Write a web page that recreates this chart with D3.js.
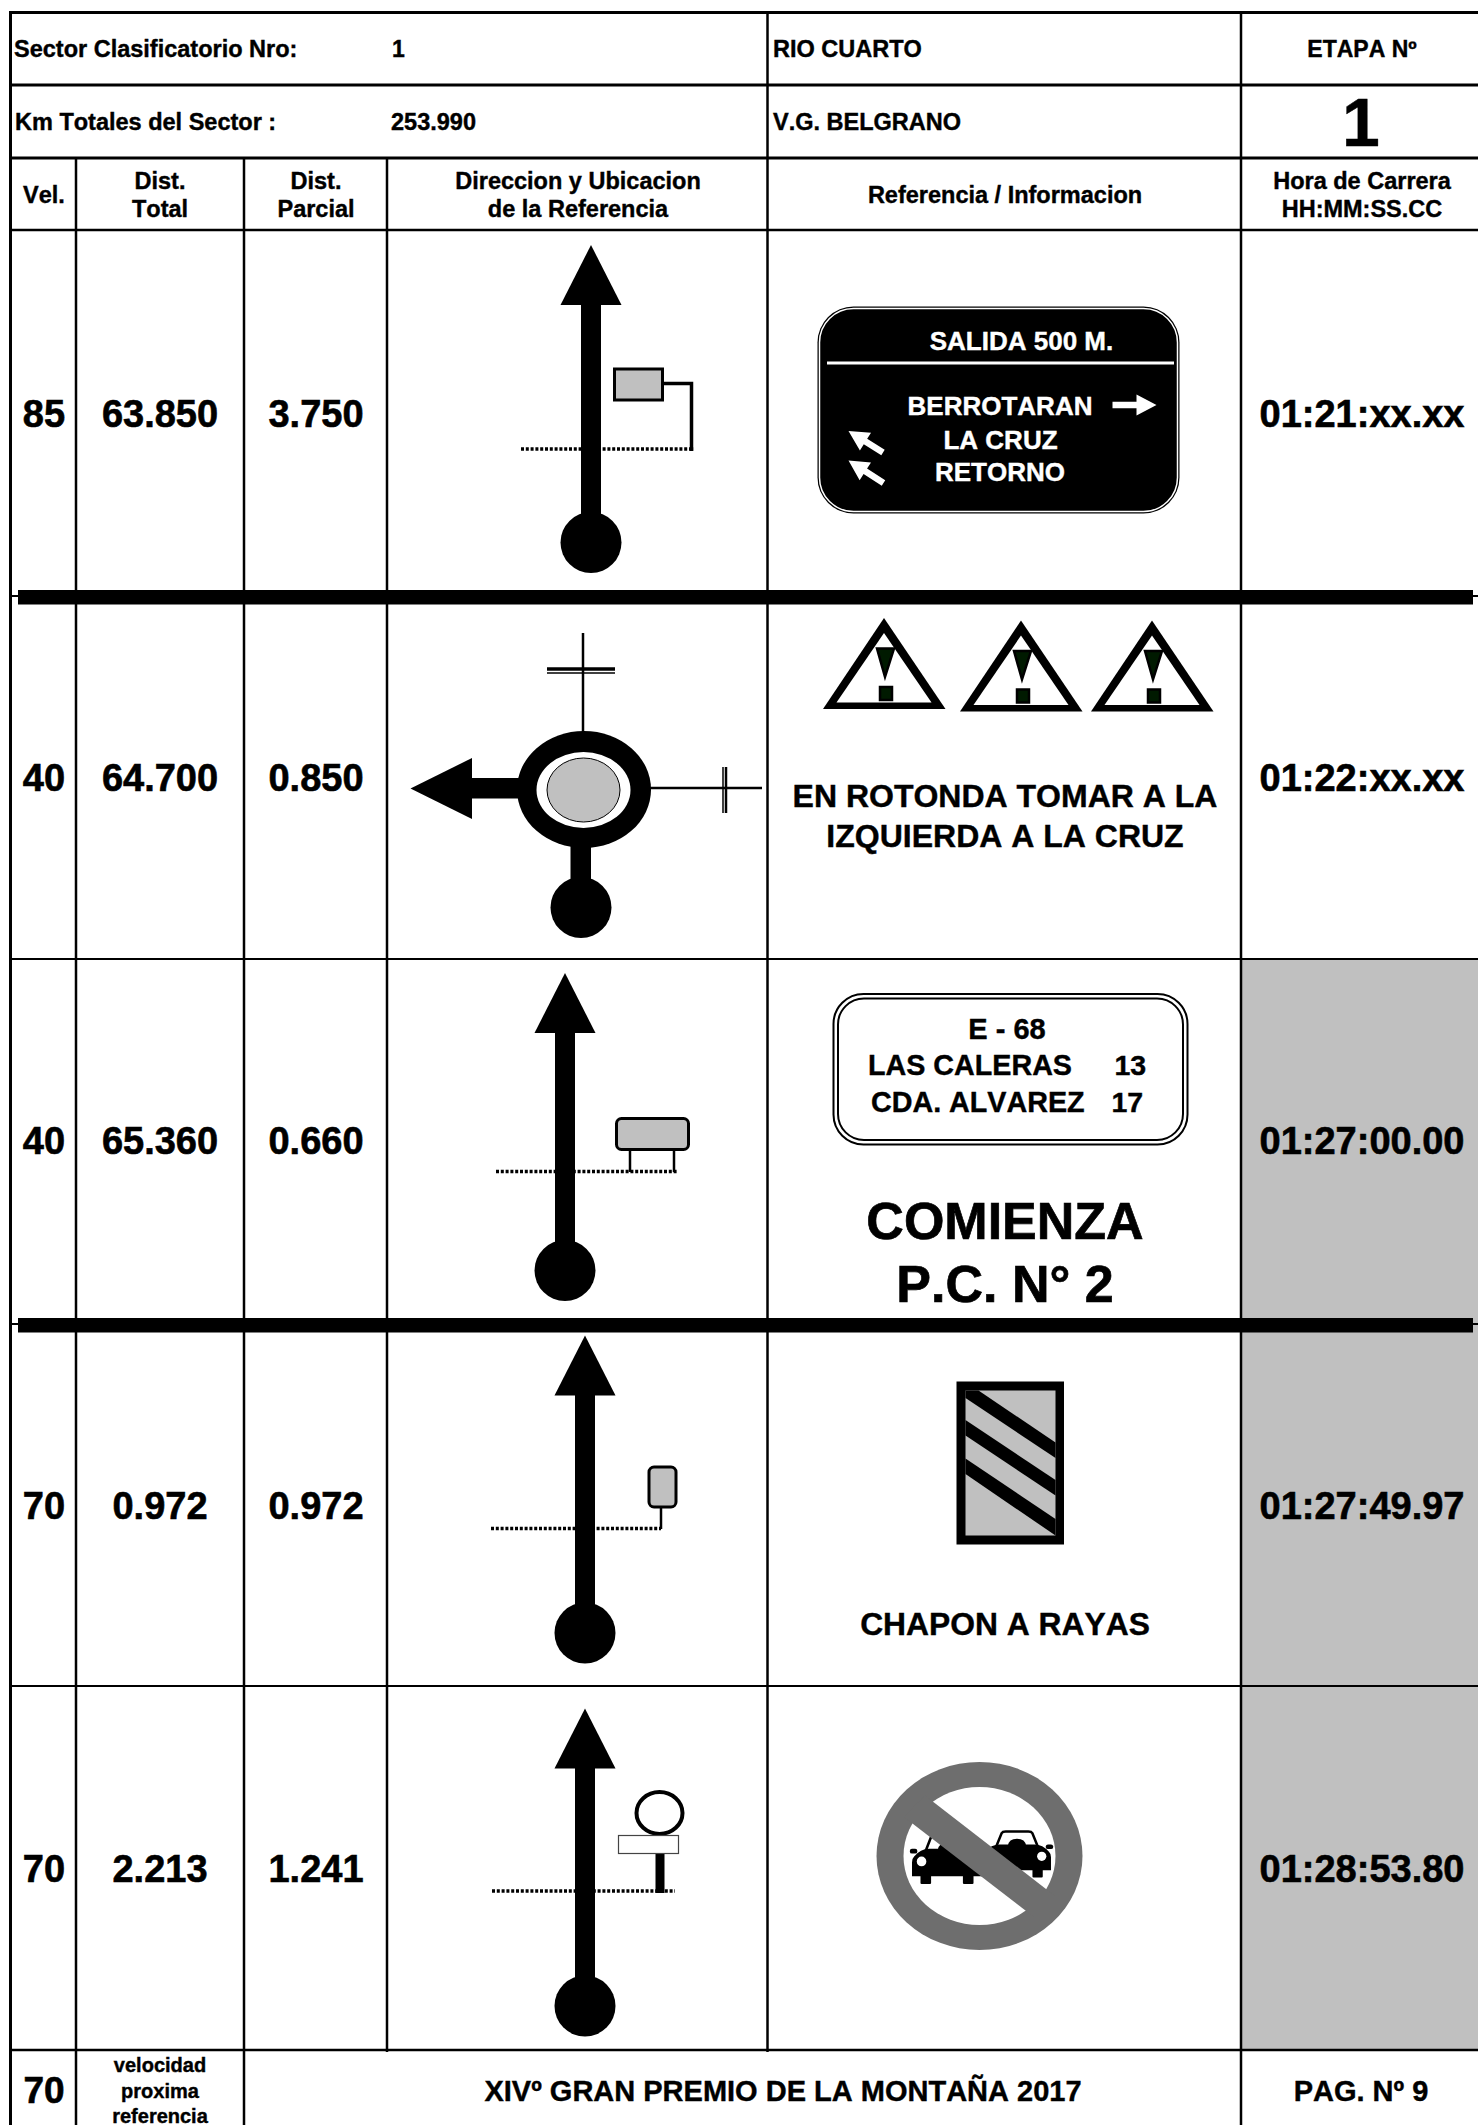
<!DOCTYPE html>
<html>
<head>
<meta charset="utf-8">
<script src="https://d3js.org/d3.v7.min.js"></script>
<style>
  html, body { margin: 0; padding: 0; background: #fff; }
  svg { display: block; }
  text { font-family: "Liberation Sans", Arial, sans-serif; font-weight: bold; fill: #000; stroke: #000; stroke-width: 0.4; font-kerning: none; }
</style>
</head>
<body>
<svg width="1478" height="2125"></svg>
<script>
// values read from the roadbook page
const rowIds = ['r1', 'r2', 'r3', 'r4', 'r5'];
const velocidad = ['85', '40', '40', '70', '70'];
const distTotal = ['63.850', '64.700', '65.360', '0.972', '2.213'];
const distParcial = ['3.750', '0.850', '0.660', '0.972', '1.241'];
const horaCarrera = ['01:21:xx.xx', '01:22:xx.xx', '01:27:00.00', '01:27:49.97', '01:28:53.80'];
const headers = [
    {col: 'vel', lines: ['Vel.']},
    {col: 'total', lines: ['Dist.', 'Total']},
    {col: 'parcial', lines: ['Dist.', 'Parcial']},
    {col: 'dir', lines: ['Direccion y Ubicacion', 'de la Referencia']},
    {col: 'ref', lines: ['Referencia / Informacion']},
    {col: 'hora', lines: ['Hora de Carrera', 'HH:MM:SS.CC']}
];
const proximaVel = '70';
const proximaTxt = ['velocidad', 'proxima', 'referencia'];
const tituloPie = 'XIVº GRAN PREMIO DE LA MONTAÑA 2017';
const paginaPie = 'PAG. Nº 9';

// layout scales
const colNames = ['vel', 'total', 'parcial', 'dir', 'ref', 'hora'];
const xMid = d3.scaleOrdinal().domain(colNames).range([44, 160, 316, 578, 1005, 1362]);
const yBase = d3.scaleOrdinal().domain(rowIds).range([427, 791, 1154, 1519, 1882]);
const grey = '#c0c0c0';

var svg = d3.select('svg');

function label(g, txt, x, y, size, anchor, fill) {
    return g.append('text')
        .attr('x', x).attr('y', y)
        .attr('font-size', size)
        .attr('text-anchor', anchor || 'middle')
        .style('fill', fill || '#000')
        .style('stroke', fill || '#000')
        .text(txt);
}
function rule(g, x1, y1, x2, y2, w, dash) {
    var l = g.append('line')
        .attr('x1', x1).attr('y1', y1).attr('x2', x2).attr('y2', y2)
        .attr('stroke', '#000').attr('stroke-width', w);
    if (dash) l.attr('stroke-dasharray', dash);
    return l;
}
function poly(g, pts, fill) {
    return g.append('polygon').attr('points', pts.join(' ')).attr('fill', fill || '#000');
}

// grey time cells
svg.append('rect').attr('x', 1241).attr('y', 959).attr('width', 237).attr('height', 1091).attr('fill', grey);

// grid
var grid = svg.append('g');
[[12.5, 3], [85, 3], [158, 3], [230, 2.5], [959, 2], [1686, 2], [2050, 2.5]].forEach(function(h) {
    rule(grid, 10, h[0], 1478, h[0], h[1]);
});
rule(grid, 10, 596, 1478, 596, 2);
rule(grid, 10, 1324, 1478, 1324, 2);
rule(grid, 10.5, 11, 10.5, 2125, 3);
rule(grid, 76, 158, 76, 2125, 2.5);
rule(grid, 244, 158, 244, 2125, 2.5);
rule(grid, 387, 158, 387, 2052, 2.5);
rule(grid, 767.5, 11, 767.5, 2052, 2.5);
rule(grid, 1241, 11, 1241, 2125, 2.5);
grid.append('rect').attr('x', 18).attr('y', 590).attr('width', 1455).attr('height', 14.5);
grid.append('rect').attr('x', 18).attr('y', 1318).attr('width', 1455).attr('height', 14.5);

// page header
var head = svg.append('g');
label(head, 'Sector Clasificatorio Nro:', 14, 57, 23.5, 'start');
label(head, '1', 392, 57, 23, 'start');
label(head, 'Km Totales del Sector :', 15, 130, 23.5, 'start');
label(head, '253.990', 391, 130, 23.5, 'start');
label(head, 'RIO CUARTO', 773, 57, 23.5, 'start');
label(head, 'V.G. BELGRANO', 773, 130, 23.5, 'start');
label(head, 'ETAPA Nº', 1362, 57, 23);
label(head, '1', 1361, 146, 68);

headers.forEach(function(h) {
    if (h.lines.length == 1) {
        label(head, h.lines[0], xMid(h.col), 203, 23.5);
    } else {
        label(head, h.lines[0], xMid(h.col), 188.5, 23.5);
        label(head, h.lines[1], xMid(h.col), 217, 23.5);
    }
});

// the values of each row
var rows = svg.append('g').selectAll('g')
    .data(rowIds)
    .enter().append('g');
[['vel', velocidad], ['total', distTotal], ['parcial', distParcial], ['hora', horaCarrera]].forEach(function(c) {
    rows.append('text')
        .attr('x', xMid(c[0]))
        .attr('y', d => yBase(d))
        .attr('font-size', 38)
        .attr('text-anchor', 'middle')
        .style('stroke-width', 0.6)
        .text((d, i) => c[1][i]);
});

// straight-on tulip: ball at the bottom, arrow on top
function tulip(g, x, top) {
    poly(g, [[x - 30.5, top + 60], [x, top], [x + 30.5, top + 60]]);
    g.append('rect').attr('x', x - 10).attr('y', top + 59).attr('width', 20).attr('height', 220);
    g.append('circle').attr('cx', x).attr('cy', top + 297.5).attr('r', 30.5);
}
function dotted(g, x1, x2, y) {
    rule(g, x1, y, x2, y, 3.5, '3 1.8');
}

var marks = svg.append('g');

// row 1
tulip(marks, 591, 245);
dotted(marks, 521, 694, 449);
marks.append('path').attr('d', 'M663,383.5H691.5V451').attr('fill', 'none').attr('stroke', '#000').attr('stroke-width', 3.5);
marks.append('rect').attr('x', 614.5).attr('y', 369).attr('width', 48).attr('height', 31)
    .attr('fill', grey).attr('stroke', '#000').attr('stroke-width', 3);

var plate = marks.append('g');
plate.append('rect').attr('x', 817.5).attr('y', 306.5).attr('width', 362).attr('height', 207).attr('rx', 36)
    .attr('fill', '#000');
plate.append('rect').attr('x', 819.5).attr('y', 308.5).attr('width', 358).attr('height', 203).attr('rx', 34)
    .attr('fill', 'none').attr('stroke', '#fff').attr('stroke-width', 1.5);
rule(plate, 827, 363, 1174, 363, 3).attr('stroke', '#fff');
label(plate, 'SALIDA 500 M.', 1021.5, 350, 26, 'middle', '#fff');
label(plate, 'BERROTARAN', 1000, 415, 26, 'middle', '#fff');
label(plate, 'LA CRUZ', 1000.5, 448.5, 26, 'middle', '#fff');
label(plate, 'RETORNO', 1000, 481, 26, 'middle', '#fff');

function plateArrow(g, x1, y1, x2, y2) {
    var len = Math.hypot(x2 - x1, y2 - y1);
    var a = Math.atan2(y2 - y1, x2 - x1) * 180 / Math.PI;
    g.append('polygon')
        .attr('points', [[len, 0], [len - 20, -10.5], [len - 20, -3.2], [0, -3.2], [0, 3.2], [len - 20, 3.2], [len - 20, 10.5]].join(' '))
        .attr('transform', 'translate(' + x1 + ',' + y1 + ') rotate(' + a + ')')
        .attr('fill', '#fff');
}
plateArrow(plate, 1112.5, 405, 1156.5, 405);
plateArrow(plate, 883, 452.5, 848.5, 431);
plateArrow(plate, 883.5, 483, 848.5, 460.5);

// row 2, roundabout
rule(marks, 583, 633, 583, 735, 2.5);
rule(marks, 547, 669, 615, 669, 3.5);
rule(marks, 547, 673, 615, 673, 1.5);
rule(marks, 648, 788, 762, 788, 2.5);
rule(marks, 723, 767, 723, 813, 1.5);
rule(marks, 726, 767, 726, 813, 2.5);
poly(marks, [[410.5, 788.5], [472, 758], [472, 819]]);
marks.append('rect').attr('x', 471).attr('y', 778).attr('width', 50).attr('height', 20.5);
marks.append('rect').attr('x', 570.5).attr('y', 845).attr('width', 20.5).attr('height', 36);
marks.append('circle').attr('cx', 581).attr('cy', 907.5).attr('r', 30.5);
marks.append('ellipse').attr('cx', 584).attr('cy', 789.5).attr('rx', 67).attr('ry', 58.5);
marks.append('ellipse').attr('cx', 583.5).attr('cy', 790).attr('rx', 47).attr('ry', 38).attr('fill', '#fff');
marks.append('ellipse').attr('cx', 583.5).attr('cy', 790).attr('rx', 36.5).attr('ry', 32)
    .attr('fill', grey).attr('stroke', '#000').attr('stroke-width', 1);

function warning(g, left, top) {
    var t = g.append('g').attr('transform', 'translate(' + left + ',' + top + ')');
    poly(t, [[0, 91], [61, 0], [122.5, 91]]);
    poly(t, [[13.5, 84.5], [61, 15], [108.5, 84.5]], '#fff');
    poly(t, [[54, 30.5], [71, 30.5], [62, 59]], '#001a00').attr('stroke', '#000').attr('stroke-width', 2.5);
    t.append('rect').attr('x', 57).attr('y', 69).attr('width', 12).attr('height', 13)
        .attr('fill', '#001a00').attr('stroke', '#000').attr('stroke-width', 2.5);
}
warning(marks, 823, 618);
warning(marks, 960, 620.5);
warning(marks, 1091, 620.5);
label(marks, 'EN ROTONDA TOMAR A LA', 1005, 807, 32);
label(marks, 'IZQUIERDA A LA CRUZ', 1005, 847, 32);

// row 3
tulip(marks, 565, 973);
dotted(marks, 496, 677, 1171.5);
rule(marks, 630, 1150, 630, 1172, 2.5);
rule(marks, 674, 1150, 674, 1172, 2.5);
marks.append('rect').attr('x', 616.5).attr('y', 1118.5).attr('width', 72).attr('height', 31).attr('rx', 5)
    .attr('fill', grey).attr('stroke', '#000').attr('stroke-width', 3);
marks.append('rect').attr('x', 833.5).attr('y', 994).attr('width', 354).attr('height', 150.5).attr('rx', 30)
    .attr('fill', '#fff').attr('stroke', '#000').attr('stroke-width', 2);
marks.append('rect').attr('x', 838).attr('y', 998.5).attr('width', 345).attr('height', 141.5).attr('rx', 26)
    .attr('fill', 'none').attr('stroke', '#000').attr('stroke-width', 2);
label(marks, 'E - 68', 1007, 1038.5, 29);
label(marks, 'LAS CALERAS', 868, 1074.5, 28.7, 'start');
label(marks, '13', 1114.5, 1074.5, 28.5, 'start');
label(marks, 'CDA. ALVAREZ', 871, 1112, 28.7, 'start');
label(marks, '17', 1111.5, 1112, 28.5, 'start');
label(marks, 'COMIENZA', 1005, 1239, 52).style('stroke-width', 0.7);
label(marks, 'P.C. N° 2', 1005, 1302, 52).style('stroke-width', 0.7);

// row 4
tulip(marks, 585, 1335.5);
dotted(marks, 491, 661, 1528.5);
rule(marks, 661, 1508, 661, 1529, 2.5);
marks.append('rect').attr('x', 649).attr('y', 1467).attr('width', 27).attr('height', 40).attr('rx', 5)
    .attr('fill', grey).attr('stroke', '#000').attr('stroke-width', 3);
marks.append('rect').attr('x', 956.5).attr('y', 1381.5).attr('width', 107.5).attr('height', 163);
marks.append('rect').attr('x', 965.5).attr('y', 1390.5).attr('width', 90).attr('height', 145).attr('fill', grey);
poly(marks, [[965.5, 1390.5], [978.5, 1390.5], [1055.5, 1442.5], [1055.5, 1458], [965.5, 1398]]);
poly(marks, [[965.5, 1420], [1055.5, 1480], [1055.5, 1495.5], [965.5, 1435.5]]);
poly(marks, [[965.5, 1458.5], [1055.5, 1519], [1055.5, 1535.5], [965.5, 1474]]);
label(marks, 'CHAPON A RAYAS', 1005, 1634.5, 31.8);

// row 5
tulip(marks, 585, 1708.5);
dotted(marks, 492, 675, 1891);
marks.append('ellipse').attr('cx', 659.5).attr('cy', 1813).attr('rx', 23).attr('ry', 21)
    .attr('fill', '#fff').attr('stroke', '#000').attr('stroke-width', 4);
marks.append('rect').attr('x', 655.5).attr('y', 1852).attr('width', 9).attr('height', 41);
marks.append('rect').attr('x', 618.5).attr('y', 1835.5).attr('width', 60).attr('height', 18)
    .attr('fill', '#fff').attr('stroke', '#444').attr('stroke-width', 1.2);

// no overtaking sign
var ban = marks.append('g');
ban.append('ellipse').attr('cx', 979.5).attr('cy', 1856).attr('rx', 103).attr('ry', 94).attr('fill', '#6e6e6e');
ban.append('ellipse').attr('cx', 979.5).attr('cy', 1856).attr('rx', 76).attr('ry', 69).attr('fill', '#fff');

function car(g, x, y, w, h) {
    var c = g.append('g').attr('transform', 'translate(' + x + ',' + y + ') scale(' + w / 66 + ',' + h / 50 + ')');
    c.append('path').attr('d', 'M13,16L18,2Q19,0 22,0H44Q47,0 48,2L53,16Z')
        .attr('fill', '#fff').attr('stroke', '#000').attr('stroke-width', 2.5);
    c.append('path').attr('d', 'M24,16Q25,8 33,8Q41,8 42,16Z').attr('fill', '#000');
    c.append('path').attr('d', 'M2,22Q8,14 16,14H50Q58,14 64,22Q66,24 66,28V42H0V28Q0,24 2,22Z').attr('fill', '#000');
    c.append('rect').attr('x', -2).attr('y', 14).attr('width', 7).attr('height', 5).attr('rx', 2);
    c.append('rect').attr('x', 61).attr('y', 14).attr('width', 7).attr('height', 5).attr('rx', 2);
    c.append('ellipse').attr('cx', 9).attr('cy', 27).attr('rx', 4.5).attr('ry', 5).attr('fill', '#fff');
    c.append('ellipse').attr('cx', 57).attr('cy', 27).attr('rx', 4.5).attr('ry', 5).attr('fill', '#fff');
    c.append('rect').attr('x', 8).attr('y', 40).attr('width', 10).attr('height', 10).attr('rx', 1);
    c.append('rect').attr('x', 48).attr('y', 40).attr('width', 10).attr('height', 10).attr('rx', 1);
}
car(ban, 983, 1831.5, 68, 46);
car(ban, 912, 1835, 70, 49);
poly(ban, [[925, 1795.5], [1055, 1896], [1034, 1917], [904, 1817]], '#6e6e6e');

// footer
var pie = svg.append('g');
label(pie, proximaVel, 44, 2103, 37).style('stroke-width', 0.6);
label(pie, proximaTxt[0], 160, 2071.5, 20);
label(pie, proximaTxt[1], 160, 2098, 20);
label(pie, proximaTxt[2], 160, 2122.5, 20);
label(pie, tituloPie, 783, 2101, 29);
label(pie, paginaPie, 1361, 2101, 29);
</script>
</body>
</html>
